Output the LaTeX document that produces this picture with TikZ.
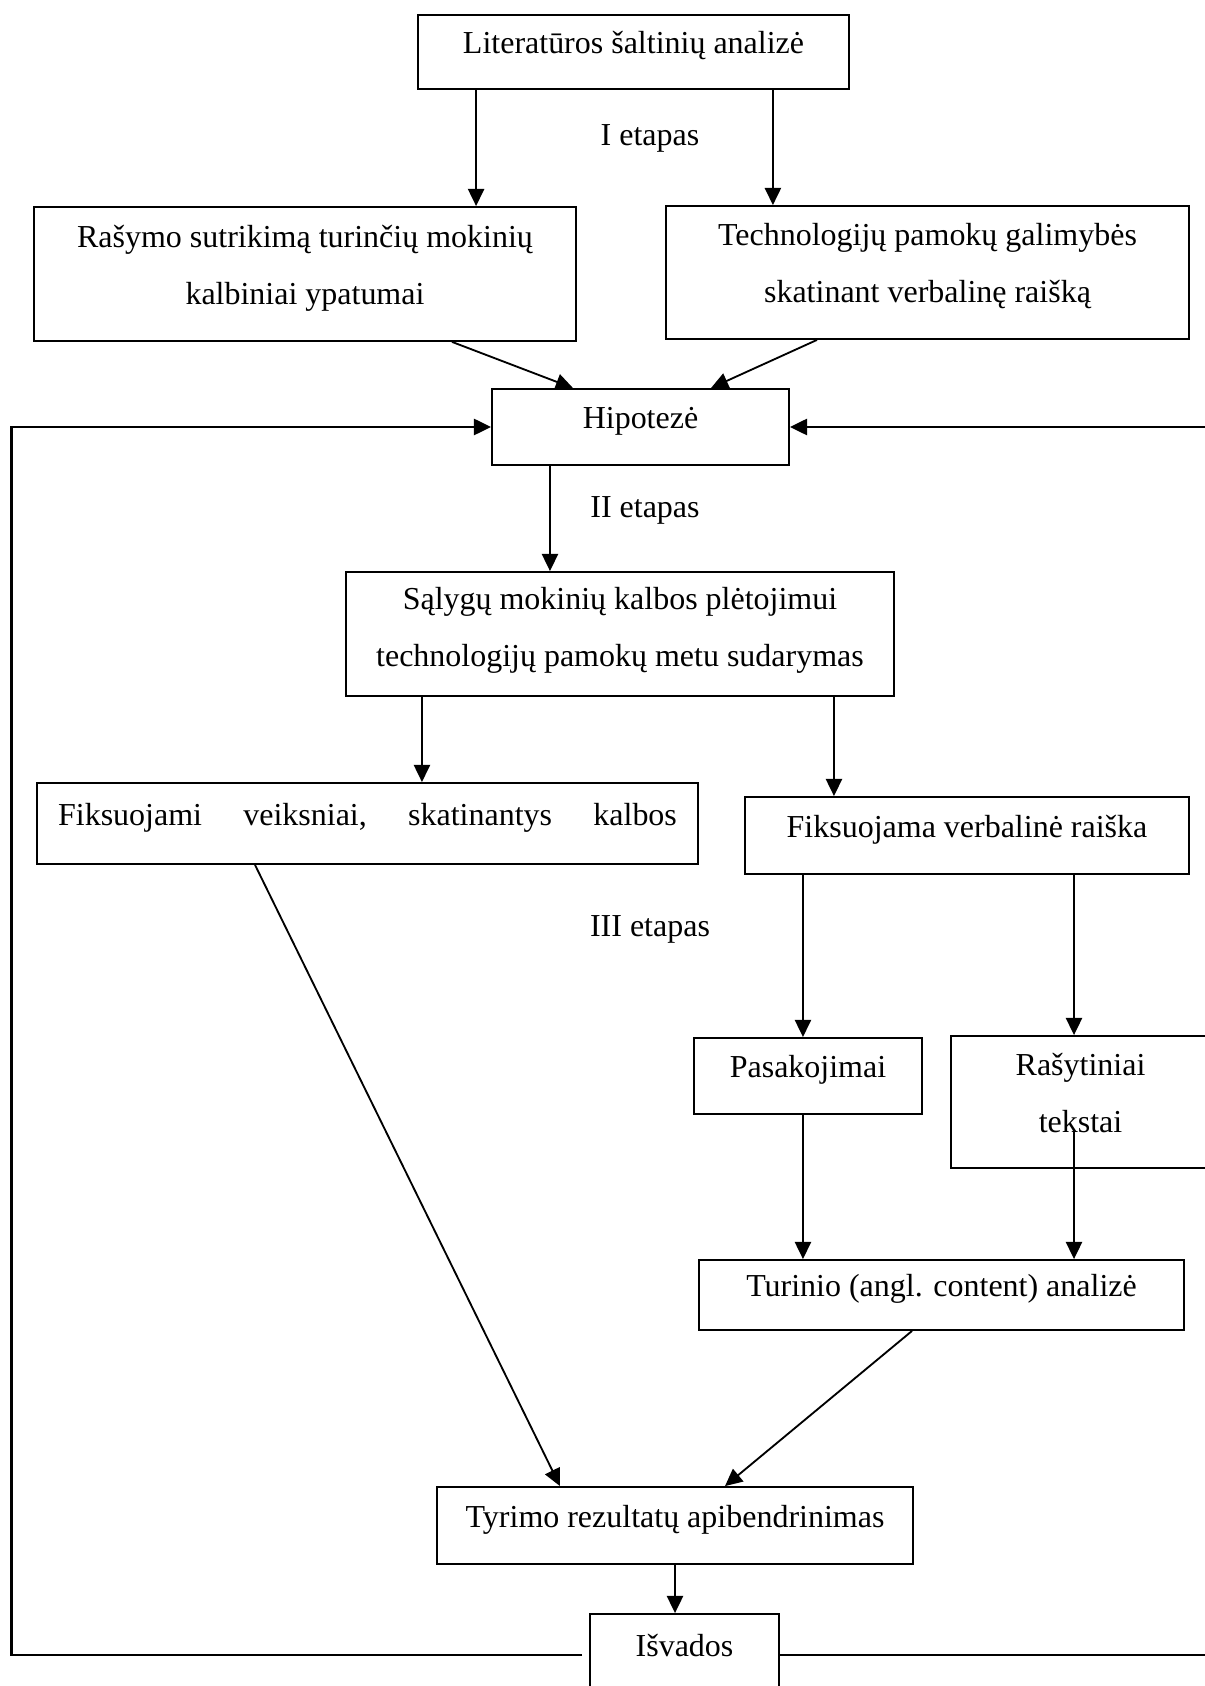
\documentclass[tikz,border=0pt]{standalone}
\usepackage{fontspec}
\setmainfont{Liberation Serif}
\usepackage{tikz}
\usetikzlibrary{arrows.meta,positioning,calc}

\begin{document}
\begin{tikzpicture}[
  box/.style={draw,line width=0.75pt,align=center,inner sep=2pt,
    font=\fontsize{13}{23.2}\selectfont,text depth=0.27cm},
  lbl/.style={font=\fontsize{13}{16}\selectfont},
  arr/.style={line width=0.75pt,-{Triangle[length=7pt,width=6.6pt]}},
  fback/.style={arr,line width=0.9pt}
]
\useasboundingbox (0,0) rectangle (17.214,-24.086);
\clip (0,0) rectangle (17.214,-24.086);
%% I etapas
\node[box,minimum width=6.157cm,minimum height=1.057cm] (lit) at (9.05,-0.743)
  {Literatūros šaltinių analizė};
\node[lbl] (et1) at (9.286,-1.971) {I etapas};
\node[box,minimum width=7.743cm,minimum height=1.914cm] (rasymo) at (4.357,-3.914)
  {Rašymo sutrikimą turinčių mokinių\\kalbiniai ypatumai};
\node[box,minimum width=7.471cm,minimum height=1.9cm] (techn) at (13.25,-3.893)
  {Technologijų pamokų galimybės\\skatinant verbalinę raišką};
\node[box,minimum width=4.243cm,minimum height=1.086cm] (hip) at (9.15,-6.1)
  {Hipotezė};
\coordinate (l1) at ([xshift=0.843cm]lit.south west);
\coordinate (l2) at ([xshift=-1.1cm]lit.south east);
\draw[arr] (l1) -- (l1 |- rasymo.north);
\draw[arr] (l2) -- (l2 |- techn.north);
\draw[arr] ([xshift=2.1cm]rasymo.south) -- ([xshift=-0.964cm]hip.north);
\draw[arr] ([xshift=-1.579cm]techn.south) -- ([xshift=1.007cm]hip.north);
%% II etapas
\node[lbl] (et2) at (9.214,-7.286) {II etapas};
\node[box,minimum width=7.829cm,minimum height=1.771cm,text depth=0.2cm] (salygu)
  at (8.857,-9.057)
  {Sąlygų mokinių kalbos plėtojimui\\technologijų pamokų metu sudarymas};
\node[box,minimum width=9.443cm,minimum height=1.157cm,text width=8.84cm,
  align=left] (fiks) at (5.25,-11.764)
  {Fiksuojami\hfill veiksniai,\hfill skatinantys\hfill kalbos};
\node[box,minimum width=6.343cm,minimum height=1.1cm] (fverb) at (13.814,-11.936)
  {Fiksuojama verbalinė raiška};
\coordinate (h1) at ([xshift=-1.293cm]hip.south);
\coordinate (s1) at ([xshift=-2.829cm]salygu.south);
\coordinate (s2) at ([xshift=3.057cm]salygu.south);
\draw[arr] (h1) -- (h1 |- salygu.north);
\draw[arr] (s1) -- (s1 |- fiks.north);
\draw[arr] (s2) -- (s2 |- fverb.north);
%% III etapas
\node[lbl] (et3) at (9.286,-13.271) {III etapas};
\node[box,minimum width=3.257cm,minimum height=1.086cm] (pasak) at (11.543,-15.371)
  {Pasakojimai};
\node[box,minimum width=3.7cm,minimum height=1.886cm] (rasyt) at (15.436,-15.743)
  {Rašytiniai\\tekstai};
\node[box,minimum width=6.929cm,minimum height=1.0cm] (turinio) at (13.45,-18.5)
  {Turinio (angl. content) analizė};
\node[box,minimum width=6.8cm,minimum height=1.1cm] (tyrimo) at (9.643,-21.793)
  {Tyrimo rezultatų apibendrinimas};
\node[box,minimum width=2.7cm,minimum height=1.171cm] (isvados) at (9.779,-23.643)
  {Išvados};
\coordinate (f1) at ([xshift=-2.343cm]fverb.south);
\coordinate (f2) at ([xshift=1.529cm]fverb.south);
\coordinate (r1) at ($(f2 |- rasyt.south)+(0,0.571)$);
\draw[arr] (f1) -- (f1 |- pasak.north);
\draw[arr] (f2) -- (f2 |- rasyt.north);
\draw[arr] (f1 |- pasak.south) -- (f1 |- turinio.north);
\draw[arr] (r1) -- (r1 |- turinio.north);
\draw[arr] ([xshift=-1.607cm]fiks.south) -- ([xshift=-1.643cm]tyrimo.north);
\draw[arr] ([xshift=-0.421cm]turinio.south) -- ([xshift=0.714cm]tyrimo.north);
\draw[arr] (tyrimo.south) -- (tyrimo.south |- isvados.north);
%% feedback
\coordinate (lb) at (0.164,0);
\coordinate (rb) at (17.6,0);
\draw[fback] ([xshift=-0.1cm]isvados.west) -- (lb |- isvados.west)
  -- (lb |- hip.west) -- (hip.west);
\draw[fback] (isvados.east) -- (rb |- isvados.east)
  -- (rb |- hip.east) -- (hip.east);
\end{tikzpicture}
\end{document}
